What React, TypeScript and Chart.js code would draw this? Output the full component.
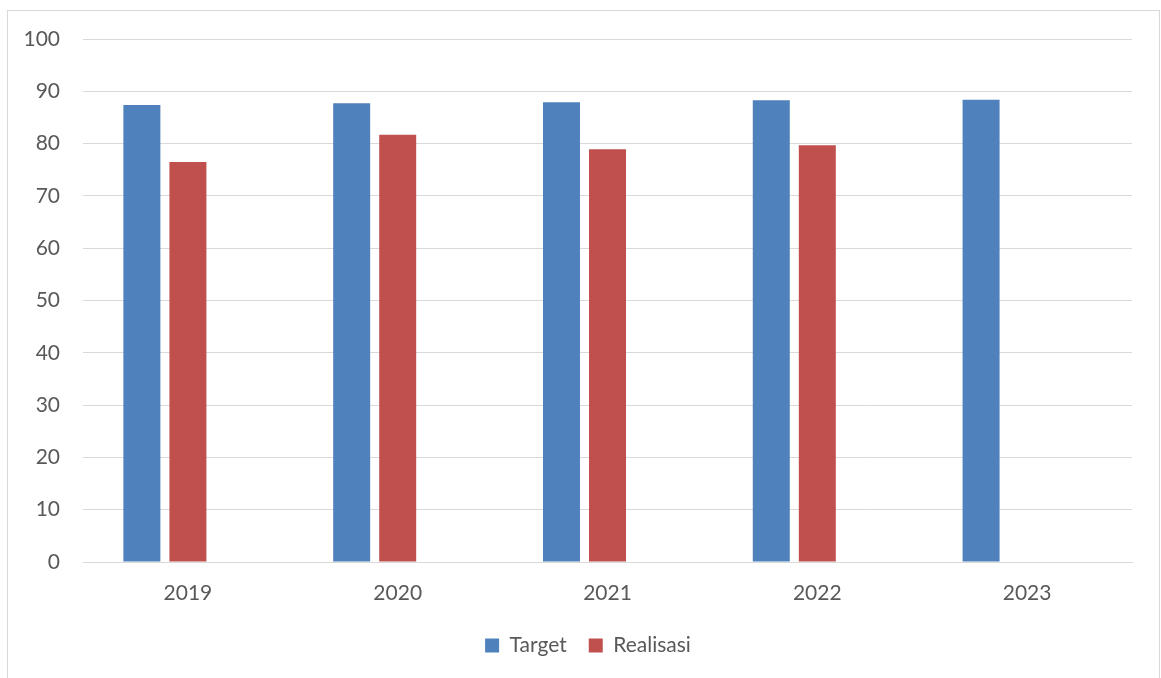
import { useEffect, useRef } from "react";
import { Chart, registerables } from "chart.js";

Chart.register(...registerables);

const years = ["2019", "2020", "2021", "2022", "2023"];
const target = [87.4, 87.7, 87.9, 88.3, 88.4];
const realisasi: (number | null)[] = [76.5, 81.7, 78.9, 79.7, null];
// empty third series keeps the three-slot cluster spacing
const reserve: (number | null)[] = [null, null, null, null, null];

const yMin = 0;
const yMax = 100;
const yStep = 10;

const FONT = "Lato, 'Open Sans', sans-serif";
const TEXT = "#595959";
const GRID = "#D9D9D9";

// nudge the legend so it is centred under the whole frame
const legendShift = {
  id: "legendShift",
  afterLayout(chart: any) {
    const lg = chart.legend;
    if (lg) {
      lg.left += 22;
      lg.right += 22;
    }
  },
};

export default function App() {
  const canvasRef = useRef<HTMLCanvasElement | null>(null);

  useEffect(() => {
    if (!canvasRef.current) return;
    const chart = new Chart(canvasRef.current, {
      type: "bar",
      data: {
        labels: years,
        datasets: [
          {
            label: "Target",
            data: target,
            backgroundColor: "#4F81BD",
            categoryPercentage: 0.658,
            barPercentage: 0.804,
          },
          {
            label: "Realisasi",
            data: realisasi,
            backgroundColor: "#C0504D",
            categoryPercentage: 0.658,
            barPercentage: 0.804,
          },
          {
            label: "",
            data: reserve,
            backgroundColor: "rgba(0,0,0,0)",
            categoryPercentage: 0.658,
            barPercentage: 0.804,
          },
        ],
      },
      options: {
        responsive: false,
        animation: false,
        layout: { padding: { left: 0, right: 29, top: 39, bottom: 12 } },
        plugins: {
          tooltip: { enabled: false },
          legend: {
            position: "bottom",
            labels: {
              color: TEXT,
              font: { family: FONT, size: 21 },
              boxWidth: 14,
              boxHeight: 14,
              padding: 22,
              filter: (item) => item.text !== "",
            },
          },
        },
        scales: {
          x: {
            grid: { display: false, drawTicks: false },
            border: { color: GRID, width: 1 },
            ticks: {
              color: TEXT,
              font: { family: FONT, size: 21 },
              padding: 19,
            },
            afterFit: (axis: any) => {
              axis.height = 51;
            },
          },
          y: {
            min: yMin,
            max: yMax,
            grid: { color: GRID, lineWidth: 1, drawTicks: false },
            border: { display: false },
            ticks: {
              stepSize: yStep,
              color: TEXT,
              font: { family: FONT, size: 21 },
              padding: 23,
            },
            afterFit: (axis: any) => {
              axis.width = 83;
            },
          },
        },
      },
      plugins: [legendShift],
    });
    return () => chart.destroy();
  }, []);

  return (
    <div
      style={{
        position: "fixed",
        left: 0,
        top: 0,
        width: 1161,
        height: 678,
        overflow: "hidden",
        background: "#fff",
      }}
    >
      <div
        style={{
          position: "absolute",
          left: 7,
          top: 10,
          width: 1151,
          height: 700,
          border: "1px solid #D9D9D9",
        }}
      />
      <canvas
        ref={canvasRef}
        width={1161}
        height={678}
        style={{ position: "absolute", left: 0, top: 0 }}
      />
    </div>
  );
}
